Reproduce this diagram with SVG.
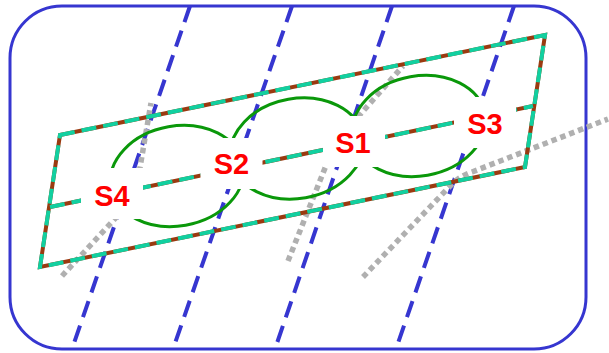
<svg xmlns="http://www.w3.org/2000/svg" width="609" height="353" viewBox="0 0 609 353">
<style>
.border{fill:none;stroke:#3636d0;stroke-width:3}
.blue{fill:none;stroke:#3636d0;stroke-width:4;stroke-dasharray:17 9}
.gray{fill:none;stroke:#b0b0b0;stroke-width:5.5;stroke-dasharray:5.5 4}
.brown{fill:none;stroke:#9a3a10;stroke-width:4;stroke-linejoin:miter}
.teal{fill:none;stroke:#11d0a0;stroke-width:4;stroke-dasharray:15 7;stroke-linejoin:miter}
.green{fill:none;stroke:#0a980a;stroke-width:3}
.mask{fill:#ffffff;stroke:none}
.lbl{font-family:"Liberation Sans",Arial,sans-serif;font-weight:bold;font-size:29px;fill:#ff0000;text-anchor:middle}
</style>
<rect id="frame" class="border" x="10" y="6" width="576" height="343" rx="52" ry="52"/>
<g id="connectors">
  <line class="blue" x1="190" y1="6" x2="72" y2="349"/>
  <line class="blue" x1="292" y1="6" x2="173" y2="349"/>
  <line class="blue" x1="392" y1="6" x2="275" y2="349"/>
  <line class="blue" x1="514" y1="6" x2="396" y2="349"/>
  <path class="gray" d="M62,276 L135,197 L151,103"/>
  <path class="gray" d="M288,261 L335,143 L403,66"/>
  <path class="gray" d="M363,277 L452,184 Q460,176 472,172 L608,119"/>
</g>
<g id="plane">
  <path class="brown" d="M60,135 L545,35 L525,167 L40,267 Z"/>
  <path class="teal" d="M60,135 L545,35 L525,167 L40,267 Z"/>
  <line class="brown" x1="50" y1="207" x2="533" y2="106"/>
  <line class="teal" x1="50" y1="207" x2="533" y2="106"/>
</g>
<g id="loops">
  <ellipse class="green" cx="177" cy="176" rx="67" ry="50" transform="rotate(-10 177 176)"/>
  <ellipse class="green" cx="297" cy="148.5" rx="67" ry="50" transform="rotate(-10 297 148.5)"/>
  <ellipse class="green" cx="419" cy="126" rx="67" ry="50" transform="rotate(-10 419 126)"/>
</g>
<g id="S4">
  <rect class="mask" x="81" y="168" width="62" height="51"/>
  <text class="lbl" x="112" y="205.5">S4</text>
</g>
<g id="S2">
  <rect class="mask" x="200.5" y="138" width="62" height="51"/>
  <text class="lbl" x="231.5" y="174">S2</text>
</g>
<g id="S1">
  <rect class="mask" x="323" y="116" width="62" height="51"/>
  <text class="lbl" x="353" y="153">S1</text>
</g>
<g id="S3">
  <rect class="mask" x="454" y="97" width="62" height="51"/>
  <text class="lbl" x="485" y="133.5">S3</text>
</g>
</svg>
